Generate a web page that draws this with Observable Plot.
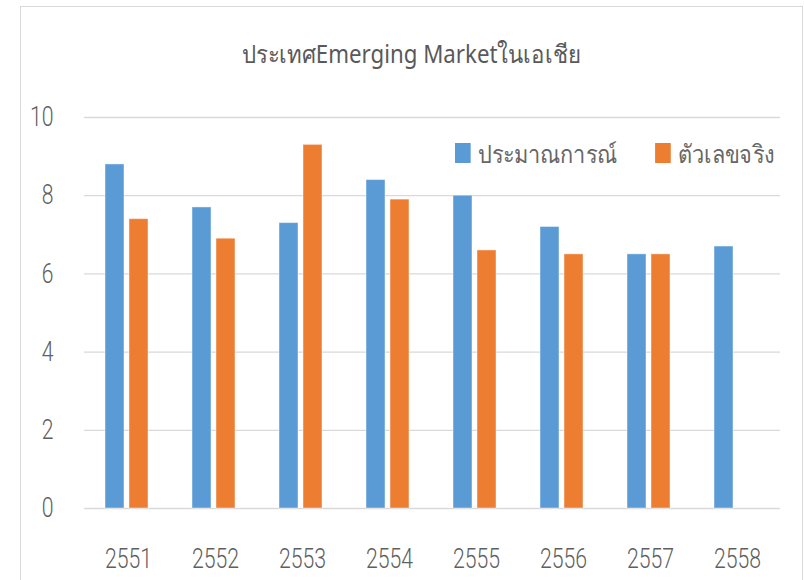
<!DOCTYPE html>
<html>
<head>
<meta charset="utf-8">
<script src="https://cdn.jsdelivr.net/npm/d3@7"></script>
<script src="https://cdn.jsdelivr.net/npm/@observablehq/plot@0.6"></script>
<style>
  html, body { margin: 0; padding: 0; background: #fff; }
  #wrap { position: relative; width: 804px; height: 580px; overflow: hidden; }
  #frame { position: absolute; left: 20px; top: 6px; width: 783px; height: 600px; border: 1.5px solid #D9D9D9; box-sizing: border-box; }
  #title { position: absolute; left: 20px; width: 783px; top: 34px; text-align: center; font-family: "Noto Sans", "DejaVu Sans", sans-serif; font-size: 25px; color: #595959; white-space: nowrap; }
  #title span { display: inline-block; transform: scaleX(0.89); transform-origin: center; }
  #legend { position: absolute; left: 455px; top: 138px; display: flex; align-items: center; font-family: "Noto Sans", "DejaVu Sans", sans-serif; font-size: 25px; line-height: 30px; color: #666666; white-space: nowrap; transform: scaleX(0.87); transform-origin: left top; }
  .item { display: flex; align-items: center; margin-right: 44px; }
  .sw { width: 18px; height: 20px; margin-right: 8px; }
  .layer { position: absolute; left: 0; top: 0; }
</style>
</head>
<body>
<div id="wrap">
  <div id="frame"></div>
  <div id="back" class="layer"></div>
  <div id="front" class="layer"></div>
  <div id="title"><span></span></div>
  <div id="legend"></div>
</div>
<script>
const titleText = "ประเทศEmerging Marketในเอเชีย";
const years = ["2551", "2552", "2553", "2554", "2555", "2556", "2557", "2558"];
const seriesNames = ["ประมาณการณ์", "ตัวเลขจริง"];
const forecast = [8.8, 7.7, 7.3, 8.4, 8.0, 7.2, 6.5, 6.7];
const actual = [7.4, 6.9, 9.3, 7.9, 6.6, 6.5, 6.5, null];
const colors = ["#5B9BD5", "#ED7D31"];
const yTicks = [0, 2, 4, 6, 8, 10];

const data = [];
years.forEach((yr, i) => {
  if (forecast[i] != null) data.push({year: yr, series: seriesNames[0], value: forecast[i]});
  if (actual[i] != null) data.push({year: yr, series: seriesNames[1], value: actual[i]});
});

const numFont = '"Roboto", "DejaVu Sans Condensed", sans-serif';
const common = {
  width: 804,
  height: 580,
  marginLeft: 84,
  marginRight: 24,
  marginTop: 117,
  marginBottom: 72,
  style: {fontFamily: numFont, fontSize: "27px", fontWeight: 300, color: "#595959", background: "transparent"}
};
const bandPad = {paddingInner: 0.49, paddingOuter: 0.24};

// Background: gridlines and axes
const back = Plot.plot({
  ...common,
  x: {domain: years, ...bandPad, label: null},
  y: {domain: [0, 10], label: null},
  marks: [
    Plot.gridY(yTicks, {stroke: "#D9D9D9", strokeOpacity: 1, strokeWidth: 1.3}),
    Plot.axisY(yTicks, {tickSize: 0, tickPadding: 31, label: null, fill: "#5f5f5f"}),
    Plot.axisX({tickSize: 0, tickPadding: 40, label: null, fill: "#5f5f5f"})
  ]
});
document.getElementById("back").appendChild(back);
// narrow number glyphs like the original's condensed face
back.querySelectorAll('g[aria-label="x-axis tick label"] text, g[aria-label="y-axis tick label"] text').forEach(t => {
  t.setAttribute("textLength", t.textContent.length * 11.8);
  t.setAttribute("lengthAdjust", "spacingAndGlyphs");
});

// Foreground: grouped bars
const front = Plot.plot({
  ...common,
  fx: {domain: years, ...bandPad, axis: null, label: null},
  x: {domain: seriesNames, paddingInner: 0.2, paddingOuter: 0, axis: null},
  y: {domain: [0, 10], axis: null},
  color: {domain: seriesNames, range: colors},
  marks: [
    Plot.barY(data, {fx: "year", x: "series", y: "value", fill: "series", stroke: "white", strokeOpacity: 0.45, strokeWidth: 1})
  ]
});
document.getElementById("front").appendChild(front);

document.querySelector("#title span").textContent = titleText;
const legend = document.getElementById("legend");
seriesNames.forEach((name, i) => {
  const item = document.createElement("div");
  item.className = "item";
  const sw = document.createElement("div");
  sw.className = "sw";
  sw.style.background = colors[i];
  const label = document.createElement("span");
  label.textContent = name;
  item.appendChild(sw);
  item.appendChild(label);
  legend.appendChild(item);
});
</script>
</body>
</html>
